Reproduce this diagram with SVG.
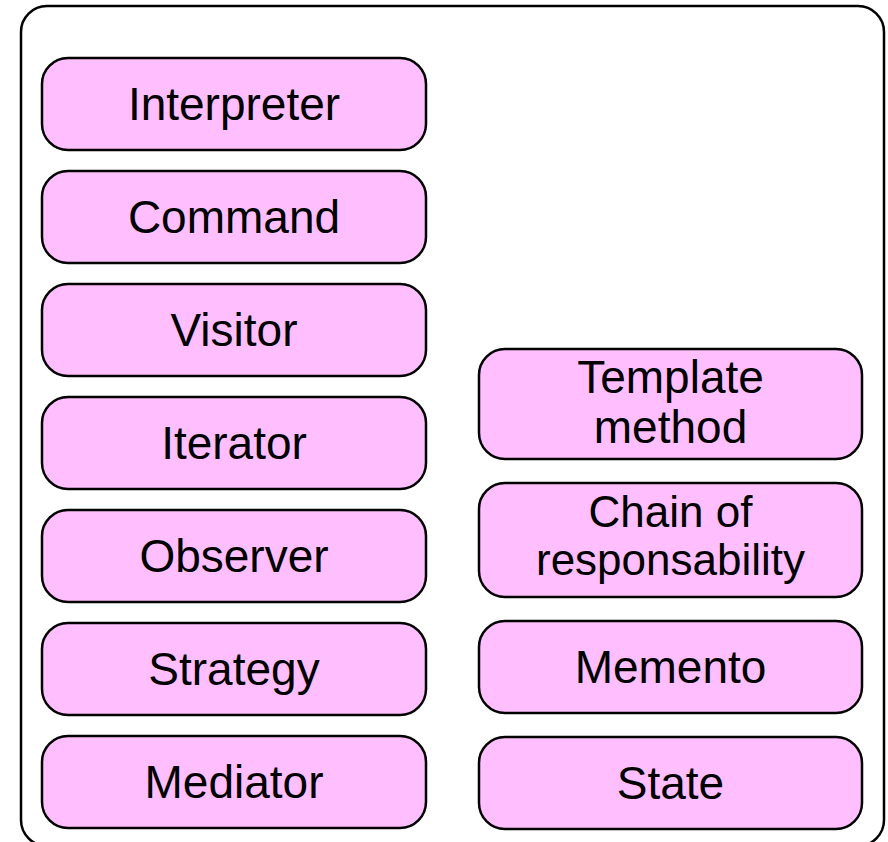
<svg xmlns="http://www.w3.org/2000/svg" width="888" height="842" viewBox="0 0 888 842">
<style>
.frame{fill:#ffffff;stroke:#000000;stroke-width:2.5}
.node rect{fill:#ffbfff;stroke:#000000;stroke-width:2.5}
.node text{font-family:"Liberation Sans",Arial,sans-serif;font-size:46px;fill:#000000;text-anchor:middle}
.node text.two{font-size:44px}
</style>
<rect width="888" height="842" fill="#ffffff"/>
<rect id="container" class="frame" x="21" y="6" width="863" height="840" rx="26" ry="26"/>
<g id="connectors"></g>
<g id="interpreter" class="node"><rect x="42" y="58" width="384" height="92" rx="26"/><text x="234" y="120">Interpreter</text></g>
<g id="command" class="node"><rect x="42" y="171" width="384" height="92" rx="26"/><text x="234" y="233">Command</text></g>
<g id="visitor" class="node"><rect x="42" y="284" width="384" height="92" rx="26"/><text x="234" y="346">Visitor</text></g>
<g id="iterator" class="node"><rect x="42" y="397" width="384" height="92" rx="26"/><text x="234" y="459">Iterator</text></g>
<g id="observer" class="node"><rect x="42" y="510" width="384" height="92" rx="26"/><text x="234" y="572">Observer</text></g>
<g id="strategy" class="node"><rect x="42" y="623" width="384" height="92" rx="26"/><text x="234" y="685">Strategy</text></g>
<g id="mediator" class="node"><rect x="42" y="736" width="384" height="92" rx="26"/><text x="234" y="798">Mediator</text></g>
<g id="template-method" class="node"><rect x="479" y="349" width="383" height="110" rx="26"/><text x="670.5" y="393">Template</text><text x="670.5" y="443">method</text></g>
<g id="chain-of-responsability" class="node"><rect x="479" y="483" width="383" height="114" rx="26"/><text class="two" x="670.5" y="527">Chain of</text><text class="two" x="670.5" y="575">responsability</text></g>
<g id="memento" class="node"><rect x="479" y="621" width="383" height="92" rx="26"/><text x="670.5" y="683">Memento</text></g>
<g id="state" class="node"><rect x="479" y="737" width="383" height="92" rx="26"/><text x="670.5" y="799">State</text></g>
</svg>
